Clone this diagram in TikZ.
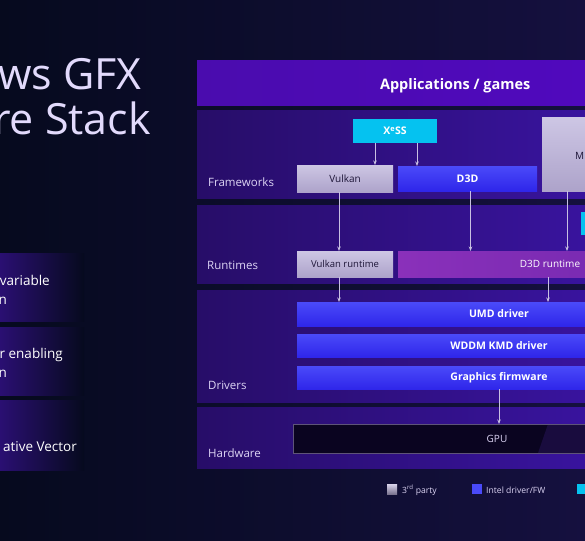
\documentclass[tikz,border=0pt]{standalone}
\usepackage{fontspec}
\setmainfont{Open Sans}
\usetikzlibrary{arrows.meta,positioning,calc}
\definecolor{bgL}{HTML}{060A1E}
\definecolor{bgR}{HTML}{15103F}
\definecolor{rowL}{HTML}{2A0F72}
\definecolor{appL}{HTML}{4A0CAE}
\definecolor{appR}{HTML}{5208C2}
\definecolor{bandL}{HTML}{270D68}
\definecolor{bandR}{HTML}{3A14A2}
\definecolor{lavT}{HTML}{CDC6E4}
\definecolor{lavB}{HTML}{ADA3CA}
\definecolor{lavtxt}{HTML}{1E1638}
\definecolor{intT}{HTML}{4A4AF9}
\definecolor{intB}{HTML}{2F26EA}
\definecolor{xessC}{HTML}{05C2F0}
\definecolor{rtL}{HTML}{8A30BA}
\definecolor{rtR}{HTML}{7028AE}
\definecolor{gpuL}{HTML}{0A0420}
\definecolor{gpuR}{HTML}{190C3E}
\definecolor{gpuEdge}{HTML}{5E5478}
\definecolor{labeltxt}{HTML}{DCD4F4}
\definecolor{titletxt}{HTML}{E2DAFC}
\definecolor{arrowC}{HTML}{C8C0E2}

\begin{document}
\begin{tikzpicture}[x=1pt,y=-1pt,>={Stealth[length=4.5pt,width=3.5pt]},
  band/.style={anchor=north west,inner sep=0pt,outer sep=0pt,minimum width=420pt,left color=bandL,right color=bandR},
  lyr/.style={anchor=base west,inner sep=0pt,text=labeltxt,font=\fontsize{11.5}{13}\selectfont},
  box/.style={anchor=north west,inner sep=0pt,outer sep=0pt,align=center,font=\fontsize{10}{12}\selectfont},
  lav/.style={box,top color=lavT,bottom color=lavB,text=lavtxt},
  intel/.style={box,top color=intT,bottom color=intB,text=white,font=\bfseries\fontsize{10.5}{12}\selectfont},
  side/.style={anchor=base east,inner sep=0pt,text=white,font=\fontsize{13.5}{15}\selectfont},
  key/.style={anchor=base west,inner sep=0pt,text=labeltxt,font=\fontsize{8.6}{10}\selectfont},
  flow/.style={->,draw=arrowC,line width=0.7pt}]
\clip (0,0) rectangle (585,540);
\shade[left color=bgL,right color=bgR] (0,0) rectangle (585,540);

% title and side rows
\node[anchor=base east,inner sep=0pt,text=titletxt,font=\fontsize{43}{48}\selectfont] (t1) at (142,90) {ws GFX};
\node[anchor=base east,inner sep=0pt,text=titletxt,font=\fontsize{43}{48}\selectfont] (t2) at (151,135) {re Stack};
\shade[left color=rowL,right color=bgL] (0,253) rectangle (84,321);
\shade[left color=rowL,right color=bgL] (0,327) rectangle (84,395);
\shade[left color=rowL,right color=bgL] (0,400) rectangle (84,470);
\node[side] (s1a) at (50,285) {variable};
\node[side] (s1b) at (7,304) {n};
\node[side] (s2a) at (63,358) {r enabling};
\node[side] (s2b) at (7,377) {n};
\node[side] (s3a) at (77,451) {ative Vector};

% layer bands
\node[anchor=north west,inner sep=0pt,minimum width=516pt,minimum height=45pt,left color=appL,right color=appR] (app) at (197,60) {};
\node[inner sep=0pt,text=white,font=\bfseries\fontsize{14.5}{16}\selectfont,yshift=-3pt] (apptxt) at (app.center) {Applications / games};
\node[band,minimum height=87pt] (fwband) at (197,111) {};
\node[band,minimum height=78pt] (rtband) at (197,205) {};
\node[band,minimum height=112pt] (drband) at (197,290) {};
\node[band,minimum height=61pt] (hwband) at (197,407) {};
\node[lyr] (lfw) at (208,186) {Frameworks};
\node[lyr] (lrt) at (207,269) {Runtimes};
\node[lyr] (ldr) at (208,389) {Drivers};
\node[lyr] (lhw) at (208,457) {Hardware};

% frameworks
\node[box,fill=xessC,text=white,font=\bfseries\fontsize{10.5}{12}\selectfont,minimum width=84pt,minimum height=24pt] (xess) at (353,119) {X\textsuperscript{e}SS};
\node[lav,minimum width=96pt,minimum height=27pt] (vk) at (297,165) {Vulkan};
\node[intel,minimum width=139pt,minimum height=25pt] (d3d) at (398,166) {D3D};
\node[lav,minimum width=80pt,minimum height=73pt] (mfw) at (542,118) {};
\node[anchor=west,inner sep=0pt,text=lavtxt,font=\fontsize{10}{12}\selectfont] (mtxt) at (575,156) {M};

% runtimes
\node[box,fill=xessC,minimum width=20pt,minimum height=23pt] (xrt) at (581,212) {};
\node[lav,font=\fontsize{9.5}{12}\selectfont,minimum width=96pt,minimum height=26pt] (vkrt) at (297,251) {Vulkan runtime};
\node[box,left color=rtL,right color=rtR,text=white,minimum width=304pt,minimum height=26pt] (d3drt) at (398,251) {D3D runtime};

% drivers
\node[intel,minimum width=404pt,minimum height=24pt] (umd) at (297,302) {UMD driver};
\node[intel,minimum width=404pt,minimum height=23pt] (kmd) at (297,334) {WDDM KMD driver};
\node[intel,minimum width=404pt,minimum height=23pt] (fw) at (297,366) {Graphics firmware};

% hardware
\node[box,fill=gpuL,draw=gpuEdge,line width=0.6pt,text=labeltxt,minimum width=408pt,minimum height=29pt,
  path picture={\fill[gpuR] ([xshift=255pt]path picture bounding box.north west) -- (path picture bounding box.north east)
  -- (path picture bounding box.south east) -- ([xshift=245pt]path picture bounding box.south west) -- cycle;}] (gpu) at (293,424) {GPU};

% connectors
\draw[flow] ([xshift=-20pt]xess.south) -- ([xshift=-20pt]xess.south |- vk.north);
\draw[flow] ([xshift=22pt]xess.south) -- ([xshift=22pt]xess.south |- d3d.north);
\draw[flow] ([xshift=-6pt]vk.south) -- ([xshift=-6pt]vk.south |- vkrt.north);
\draw[flow] ([xshift=3pt]d3d.south) -- ([xshift=3pt]d3d.south |- d3drt.north);
\draw[flow] ([xshift=25pt]mfw.south west) -- ([xshift=25pt]mfw.south west |- d3drt.north);
\draw[flow] ([xshift=-6pt]vkrt.south) -- ([xshift=-6pt]vkrt.south |- umd.north);
\draw[flow] ([xshift=-2pt]d3drt.south) -- ([xshift=-2pt]d3drt.south |- umd.north);
\draw[flow] (fw.south) -- (fw.south |- gpu.north);

% legend
\node[anchor=north west,inner sep=0pt,minimum size=10pt,top color=lavT!80!white,bottom color=lavB!70!black] (k1) at (387,484) {};
\node[key] (k1t) at (402,493) {3\textsuperscript{rd} party};
\node[anchor=north west,inner sep=0pt,minimum size=10pt,fill=intT] (k2) at (472,484) {};
\node[key] (k2t) at (486,493) {Intel driver/FW};
\node[anchor=north west,inner sep=0pt,minimum size=10pt,fill=xessC] (k3) at (577,484) {};
\end{tikzpicture}
\end{document}
